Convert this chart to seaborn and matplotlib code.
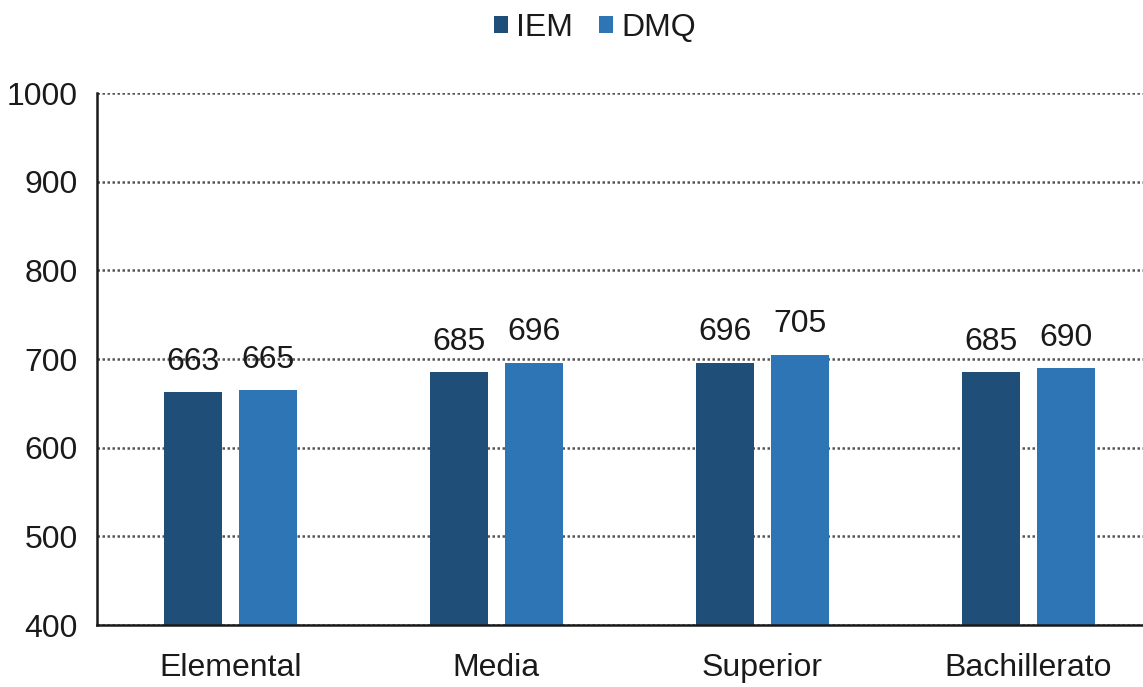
import matplotlib
matplotlib.use("Agg")
import matplotlib.pyplot as plt
import seaborn as sns
import pandas as pd
from matplotlib import font_manager

categories = ["Elemental", "Media", "Superior", "Bachillerato"]
series_names = ["IEM", "DMQ"]
iem_values = [663, 685, 696, 685]
dmq_values = [665, 696, 705, 690]
y_ticks = [400, 500, 600, 700, 800, 900, 1000]

colors = {"IEM": "#1F4E79", "DMQ": "#2E75B6"}

sns.set_theme(style="white")
names = {f.name for f in font_manager.fontManager.ttflist}
fam = "Liberation Sans Narrow" if "Liberation Sans Narrow" in names else "Liberation Sans"
plt.rcParams["font.family"] = [fam, "DejaVu Sans"]

df = pd.DataFrame({
    "cat": categories * 2,
    "serie": ["IEM"] * 4 + ["DMQ"] * 4,
    "val": iem_values + dmq_values,
})

fig = plt.figure(figsize=(11.43, 6.87), dpi=100)
ax = fig.add_axes([0.085, 0.0902, 0.915, 0.7744])
sns.barplot(data=df, x="cat", y="val", hue="serie", hue_order=series_names,
            palette=colors, width=0.564, gap=0.227, ax=ax, saturation=1,
            edgecolor="none", linewidth=0)

ax.set_ylim(400, 1000)
ax.set_xlim(-0.5, 3.43)
ax.set_yticks(y_ticks)
ax.set_yticklabels([str(t) for t in y_ticks])
ax.set_xlabel("")
ax.set_ylabel("")
ax.tick_params(axis="both", length=0, labelsize=23, colors="#1a1a1a")
ax.tick_params(axis="y", pad=14)
ax.tick_params(axis="x", pad=20)

ax.yaxis.grid(True, linestyle=(0, (1, 1)), color="#555555", linewidth=1.8)
ax.xaxis.grid(False)
ax.set_axisbelow(True)
for s in ["top", "right"]:
    ax.spines[s].set_visible(False)
for s in ["left", "bottom"]:
    ax.spines[s].set_color("#1a1a1a")
    ax.spines[s].set_linewidth(1.8)

for cont in ax.containers:
    ax.bar_label(cont, labels=[str(int(v)) for v in cont.datavalues],
                 padding=11, fontsize=23, color="#1a1a1a")

leg = ax.legend(loc="upper center", bbox_to_anchor=(0.476, 1.205), ncol=2, frameon=False,
                fontsize=23, handlelength=0.45, handleheight=0.45, handletextpad=0.25,
                columnspacing=0.8)
for t in leg.get_texts():
    t.set_color("#1a1a1a")

fig.savefig("out.png", dpi=100)
